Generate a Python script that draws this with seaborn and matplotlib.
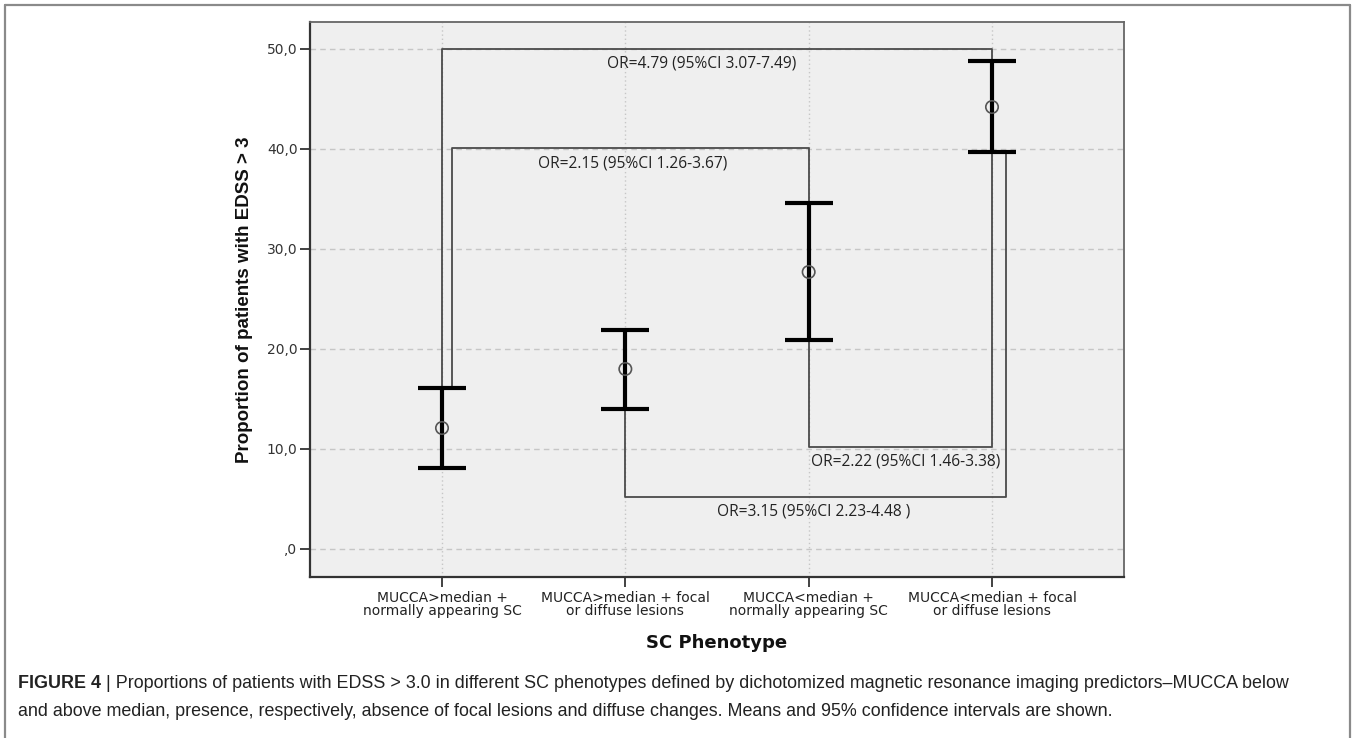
import pandas as pd
import matplotlib
matplotlib.use("Agg")
import matplotlib.pyplot as plt
from matplotlib.lines import Line2D
import seaborn as sns

# data
phenotypes = ["MUCCA>median +\nnormally appearing SC",
              "MUCCA>median + focal\nor diffuse lesions",
              "MUCCA<median +\nnormally appearing SC",
              "MUCCA<median + focal\nor diffuse lesions"]
means = [12.1, 18.0, 27.7, 44.2]
ci_low = [8.1, 14.0, 20.9, 39.7]
ci_high = [16.1, 21.9, 34.6, 48.8]

y_ticks = [0, 10, 20, 30, 40, 50]
y_ticklabels = [",0", "10,0", "20,0", "30,0", "40,0", "50,0"]

# comparison brackets: left/right category (+ small offset), bar level, label and its spot
br_left = [0, 0, 2, 1]
br_left_off = [0.0, 0.055, 0.0, 0.0]
br_right = [3, 2, 3, 3]
br_right_off = [0.0, 0.0, 0.0, 0.076]
br_level = [50.0, 40.1, 10.2, 5.2]
br_label = ["OR=4.79 (95%CI 3.07-7.49)", "OR=2.15 (95%CI 1.26-3.67)",
            "OR=2.22 (95%CI 1.46-3.38)", "OR=3.15 (95%CI 2.23-4.48 )"]
br_label_x = [0.90, 0.524, 2.013, 1.50]
br_label_y = [48.6, 38.6, 8.7, 3.7]

caption_bold = "FIGURE 4"
caption_1 = (" | Proportions of patients with EDSS > 3.0 in different SC phenotypes defined by "
             "dichotomized magnetic resonance imaging predictors\u2013MUCCA below")
caption_2 = ("and above median, presence, respectively, absence of focal lesions and diffuse "
             "changes. Means and 95% confidence intervals are shown.")

df = pd.DataFrame({"phenotype": phenotypes, "mean": means,
                   "lo": ci_low, "hi": ci_high})
df["pos"] = range(len(df))

sns.set_style("white")
plt.rcParams["font.family"] = ["DejaVu Sans"]

W, H = 1357, 738
fig = plt.figure(figsize=(W / 100, H / 100), dpi=100)
ax = fig.add_axes([310 / W, 1 - 577 / H, (1124 - 310) / W, (577 - 22) / H])
ax.set_facecolor("#efefef")

# grid
for yt in y_ticks:
    ax.axhline(yt, color="#c6c6c6", lw=1, ls=(0, (4, 3)), zorder=0)
for p in df["pos"]:
    ax.axvline(p, color="#c6c6c6", lw=1, ls=(0, (1, 2)), zorder=0)

# brackets
for i in range(len(br_level)):
    xl = br_left[i] + br_left_off[i]
    xr = br_right[i] + br_right_off[i]
    lev = br_level[i]
    if lev > df["hi"].iloc[br_left[i]]:
        yl = df["hi"].iloc[br_left[i]]
        yr = df["hi"].iloc[br_right[i]]
    else:
        yl = df["lo"].iloc[br_left[i]]
        yr = df["lo"].iloc[br_right[i]]
    ax.plot([xl, xl, xr, xr], [yl, lev, lev, yr], color="#4a4a4a", lw=1.3, zorder=2)
    ax.text(br_label_x[i], br_label_y[i], br_label[i], ha="left", va="center",
            fontsize=11.2, family="Open Sans", color="#222222", zorder=4)

# error bars + means
ax.errorbar(df["pos"], df["mean"],
            yerr=[df["mean"] - df["lo"], df["hi"] - df["mean"]],
            fmt="none", ecolor="black", elinewidth=3, capsize=17, capthick=3, zorder=3)
sns.scatterplot(data=df, x="pos", y="mean", ax=ax, marker="o", s=80,
                facecolor="none", edgecolor="#555555", linewidth=1.2, zorder=5)

ax.set_xlim(-0.72, 3.72)
ax.set_ylim(-2.8, 52.7)
ax.set_xticks(df["pos"])
ax.set_xticklabels(df["phenotype"], fontsize=10, color="#222222", linespacing=0.95)
ax.set_yticks(y_ticks)
ax.set_yticklabels(y_ticklabels, fontsize=10, color="#333333")
ax.tick_params(axis="both", direction="out", length=7, width=1.3, color="#333333", pad=2)
ax.tick_params(axis="x", pad=3)
ax.tick_params(left=True, bottom=True)

for side in ["top", "right"]:
    ax.spines[side].set_color("#666666")
    ax.spines[side].set_linewidth(1.3)
for side in ["left", "bottom"]:
    ax.spines[side].set_color("#333333")
    ax.spines[side].set_linewidth(1.6)

ax.set_xlabel("SC Phenotype", fontsize=13, fontweight="bold", color="#111111", labelpad=11)
ax.set_ylabel("Proportion of patients with EDSS > 3", fontsize=13.5, fontweight="bold",
              family="Liberation Sans", color="#111111", labelpad=10)

# outer frame of the figure panel
frame = dict(color="#8a8a8a", lw=1.6, transform=fig.transFigure)
fig.add_artist(Line2D([5 / W, 1350 / W], [1 - 5 / H, 1 - 5 / H], **frame))
fig.add_artist(Line2D([5 / W, 5 / W], [0, 1 - 5 / H], **frame))
fig.add_artist(Line2D([1350 / W, 1350 / W], [0, 1 - 5 / H], **frame))

# caption
cap_kw = dict(fontsize=12.9, family="Liberation Sans", color="#222222")
t0 = fig.text(18 / W, 1 - 688 / H, caption_bold, fontweight="bold", va="baseline", **cap_kw)
ax.annotate(caption_1, xy=(1, 0), xycoords=t0, va="bottom", ha="left",
            annotation_clip=False, **cap_kw)
fig.text(18 / W, 1 - 716 / H, caption_2, va="baseline", **cap_kw)

fig.savefig("out.png", dpi=100)
